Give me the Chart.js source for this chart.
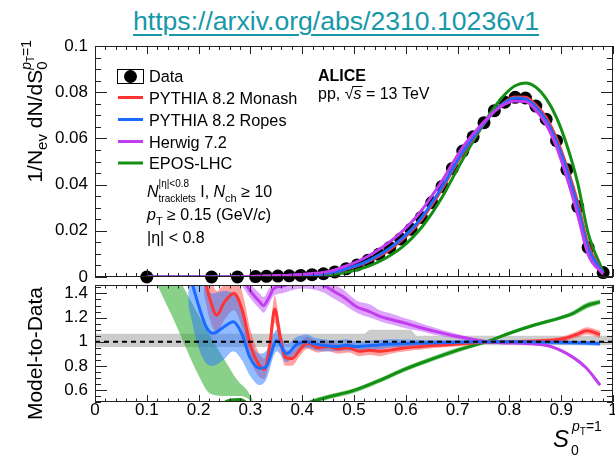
<!DOCTYPE html>
<html>
<head>
<meta charset="utf-8">
<script src="https://cdn.jsdelivr.net/npm/chart.js@4.4.1/dist/chart.umd.min.js"></script>
<style>
  html, body { margin: 0; padding: 0; background: #fff; overflow: hidden; width: 615px; height: 461px; }
  #url { position: absolute; left: 133px; top: 8px; font: 26.6px/26px "Liberation Sans", Arial, sans-serif; color: #1798aa;
         text-decoration: underline; text-decoration-thickness: 2px; text-underline-offset: 4px; white-space: nowrap; }
  #top { position: absolute; left: 0; top: 0; }
  #bot { position: absolute; left: 0; top: 281px; }
</style>
</head>
<body>
<div id="url">https://arxiv.org/abs/2310.10236v1</div>
<canvas id="top" width="640" height="300"></canvas>
<canvas id="bot" width="640" height="180"></canvas>
<script>
// ---- top panel: S0 distribution ----
const dataX = [0.1, 0.225, 0.275, 0.31, 0.331, 0.353, 0.375, 0.397, 0.419, 0.441, 0.463, 0.485, 0.506, 0.527, 0.548, 0.569,
  0.59, 0.61, 0.63, 0.65, 0.67, 0.69, 0.71, 0.73, 0.751, 0.771, 0.791, 0.811, 0.831, 0.851, 0.871, 0.891, 0.911, 0.932, 0.952, 0.981];
const dataY = [0, 0, 0, 0.0002, 0.0003, 0.0004, 0.0005, 0.0007, 0.0010, 0.0014, 0.0022, 0.0036, 0.0052, 0.0072, 0.0098, 0.0128,
  0.0165, 0.0207, 0.0258, 0.0322, 0.0392, 0.0470, 0.0545, 0.0607, 0.0668, 0.0720, 0.0757, 0.0778, 0.0775, 0.0740, 0.0683, 0.0590, 0.0465, 0.0305, 0.0128, 0.0019];
const monashY = [0, 0, 0, 0.0002, 0.0003, 0.0004, 0.0005, 0.0007, 0.00095, 0.0013, 0.0021, 0.0034, 0.0048, 0.0067, 0.0090, 0.0119,
  0.0155, 0.0197, 0.0248, 0.0311, 0.0381, 0.0460, 0.0536, 0.0600, 0.0665, 0.0718, 0.0757, 0.0779, 0.0778, 0.0745, 0.0690, 0.0600, 0.0476, 0.0322, 0.0140, 0.0015];
const ropesY = [0, 0, 0, 0.0002, 0.0003, 0.0004, 0.0005, 0.0007, 0.0010, 0.0014, 0.0021, 0.0035, 0.0050, 0.0070, 0.0095, 0.0125,
  0.0162, 0.0204, 0.0256, 0.0320, 0.0390, 0.0467, 0.0542, 0.0604, 0.0666, 0.0718, 0.0755, 0.0775, 0.0771, 0.0737, 0.0678, 0.0586, 0.0462, 0.0302, 0.0126, 0.0017];
const herwigY = [0, 0, 0, 0.0003, 0.0004, 0.0006, 0.0008, 0.0011, 0.0015, 0.0020, 0.0031, 0.0048, 0.0067, 0.0090, 0.0119, 0.0152,
  0.0191, 0.0235, 0.0287, 0.0350, 0.0416, 0.0491, 0.0562, 0.0619, 0.0672, 0.0717, 0.0748, 0.0762, 0.0760, 0.0722, 0.0660, 0.0563, 0.0430, 0.0268, 0.0098, 0.0012];
const eposY = [0, 0, 0, 0.0001, 0.0001, 0.0001, 0.0002, 0.0003, 0.0004, 0.0007, 0.0012, 0.0020, 0.0031, 0.0046, 0.0066, 0.0092,
  0.0124, 0.0164, 0.0213, 0.0274, 0.0345, 0.0427, 0.0510, 0.0588, 0.0664, 0.0735, 0.0790, 0.0828, 0.0840, 0.0822, 0.0772, 0.0690, 0.0570, 0.0405, 0.0190, 0.0022];
const topTickLabels = ['0', '0.02', '0.04', '0.06', '0.08', '0.1'];

// ---- bottom panel: model / data ----
const monashRX = [0.21, 0.222, 0.235, 0.25, 0.268, 0.285, 0.30, 0.315, 0.327, 0.337, 0.347, 0.357, 0.367, 0.38, 0.395, 0.41, 0.43,
  0.45, 0.47, 0.49, 0.51, 0.53, 0.55, 0.57, 0.60, 0.63, 0.66, 0.70, 0.75, 0.80, 0.85, 0.90, 0.93, 0.95, 0.975];
const monashR = [1.55, 1.35, 1.22, 1.33, 1.40, 1.25, 0.97, 0.82, 0.77, 0.95, 1.27, 1.05, 0.87, 0.86, 0.93, 0.99, 0.95,
  0.96, 0.94, 0.95, 0.92, 0.93, 0.92, 0.93, 0.95, 0.96, 0.97, 0.98, 0.995, 1.0, 1.005, 1.02, 1.06, 1.09, 1.06];
const monashLo = [1.40, 1.18, 1.08, 1.18, 1.26, 1.10, 0.85, 0.72, 0.69, 0.85, 1.16, 0.96, 0.80, 0.80, 0.88, 0.94, 0.91,
  0.92, 0.90, 0.91, 0.88, 0.89, 0.88, 0.90, 0.92, 0.935, 0.95, 0.96, 0.98, 0.985, 0.99, 1.0, 1.035, 1.06, 1.03];
const monashHi = [1.70, 1.55, 1.42, 1.48, 1.55, 1.40, 1.10, 0.92, 0.86, 1.05, 1.38, 1.14, 0.94, 0.92, 0.98, 1.04, 0.99,
  1.00, 0.98, 0.99, 0.96, 0.97, 0.96, 0.96, 0.98, 0.985, 0.99, 1.0, 1.01, 1.015, 1.02, 1.04, 1.085, 1.12, 1.09];

const ropesRX = [0.18, 0.20, 0.215, 0.228, 0.248, 0.267, 0.283, 0.299, 0.318, 0.33, 0.351, 0.37, 0.39, 0.409, 0.425, 0.441,
  0.467, 0.485, 0.505, 0.537, 0.57, 0.634, 0.70, 0.80, 0.90, 0.95, 0.975];
const ropesR = [1.60, 1.30, 1.12, 1.07, 1.12, 1.165, 1.07, 0.87, 0.78, 0.79, 1.01, 0.90, 0.98, 1.00, 0.98, 0.97,
  0.96, 0.97, 0.96, 0.97, 0.98, 0.99, 0.995, 1.0, 0.995, 0.99, 0.985];
const ropesLo = [1.30, 0.95, 0.82, 0.80, 0.85, 0.92, 0.85, 0.72, 0.64, 0.68, 0.92, 0.83, 0.92, 0.95, 0.93, 0.92,
  0.92, 0.93, 0.92, 0.93, 0.95, 0.965, 0.975, 0.985, 0.975, 0.97, 0.965];
const ropesHi = [1.90, 1.65, 1.45, 1.40, 1.42, 1.40, 1.28, 1.02, 0.90, 0.92, 1.10, 0.98, 1.04, 1.06, 1.03, 1.02,
  1.01, 1.02, 1.00, 1.01, 1.02, 1.015, 1.015, 1.015, 1.01, 1.005, 1.0];

const herwigRX = [0.28, 0.30, 0.318, 0.325, 0.335, 0.345, 0.36, 0.40, 0.44, 0.46, 0.48, 0.505, 0.53, 0.55, 0.575, 0.602,
  0.625, 0.653, 0.698, 0.756, 0.79, 0.83, 0.88, 0.923, 0.949, 0.975];
const herwigR = [1.55, 1.42, 1.33, 1.30, 1.36, 1.44, 1.46, 1.50, 1.47, 1.42, 1.37, 1.29, 1.25, 1.21, 1.18, 1.15,
  1.12, 1.09, 1.045, 1.0, 0.99, 0.985, 0.96, 0.87, 0.78, 0.64];
const herwigLo = [1.49, 1.36, 1.27, 1.24, 1.30, 1.38, 1.40, 1.44, 1.41, 1.36, 1.31, 1.24, 1.20, 1.17, 1.14, 1.11,
  1.09, 1.06, 1.025, 0.99, 0.98, 0.975, 0.95, 0.86, 0.77, 0.63];
const herwigHi = [1.61, 1.48, 1.40, 1.37, 1.43, 1.51, 1.53, 1.56, 1.53, 1.48, 1.43, 1.34, 1.31, 1.26, 1.23, 1.19,
  1.16, 1.12, 1.065, 1.01, 1.0, 0.995, 0.97, 0.88, 0.79, 0.65];

const eposBandX = [0.12, 0.15, 0.20, 0.222, 0.25, 0.275, 0.295, 0.31, 0.35, 0.40, 0.44, 0.50, 0.55, 0.60, 0.65, 0.70,
  0.756, 0.80, 0.85, 0.90, 0.923, 0.95, 0.975];
const eposLo = [1.47, 1.20, 0.72, 0.57, 0.55, 0.55, 0.53, 0.42, 0.30, 0.45, 0.51, 0.575, 0.66, 0.755, 0.835, 0.91,
  0.99, 1.055, 1.125, 1.185, 1.215, 1.275, 1.31];
const eposHi = [1.75, 1.60, 1.22, 1.05, 0.85, 0.68, 0.59, 0.48, 0.36, 0.49, 0.55, 0.615, 0.70, 0.795, 0.875, 0.95,
  1.01, 1.085, 1.155, 1.215, 1.255, 1.325, 1.35];
const eposRX = [0.24, 0.26, 0.28, 0.30, 0.35, 0.40, 0.44, 0.50, 0.55, 0.60, 0.65, 0.70, 0.756, 0.80, 0.85, 0.90, 0.923, 0.95, 0.975];
const eposR = [0.47, 0.515, 0.52, 0.47, 0.33, 0.47, 0.53, 0.596, 0.68, 0.775, 0.855, 0.93, 1.0, 1.07, 1.14, 1.20, 1.235, 1.30, 1.33];

const statX = [0, 0.52, 0.53, 0.61, 0.62, 1.0];
const statLo = [0.955, 0.955, 0.955, 0.955, 0.97, 0.97];
const statHi = [1.065, 1.065, 1.10, 1.10, 1.05, 1.05];

const ratioTicks = [0.6, 0.8, 1, 1.2, 1.4];
const ratioTickLabels = ['0.6', '0.8', '1', '1.2', '1.4'];
const xTickLabels = ['0', '0.1', '0.2', '0.3', '0.4', '0.5', '0.6', '0.7', '0.8', '0.9', '1'];

const FF = '"Liberation Sans", Arial, Helvetica, sans-serif';
const RED = '#ff3535', BLUE = '#1c6bff', PURPLE = '#c23cf0', GREEN = '#139013';

function pts(xs, ys) { return xs.map((x, i) => ({ x: x, y: ys[i] })); }

function curve(xs, ys, color) {
  return { data: pts(xs, ys), borderColor: color, borderWidth: 3, pointRadius: 0, fill: false, cubicInterpolationMode: 'monotone' };
}
function band(xs, ys, color, target) {
  return { data: pts(xs, ys), borderColor: 'transparent', borderWidth: 0, pointRadius: 0, backgroundColor: color,
           fill: target, cubicInterpolationMode: 'monotone' };
}

// rich text: parts drawn left to right, adv:0 keeps the pen where it is (stacked sub/sup)
function txt(ctx, parts, x, y, draw) {
  for (const p of parts) {
    ctx.font = (p.st || '') + ' ' + p.s + 'px ' + FF;
    if (draw !== false) ctx.fillText(p.t, x, y + (p.dy || 0));
    if (p.adv !== 0) x += ctx.measureText(p.t).width;
  }
  return x;
}

// ROOT style frame with ticks inside on all four sides
function framePlugin(o) {
  return {
    id: 'frame',
    afterDraw(chart) {
      const { ctx, chartArea: a, scales: { x, y } } = chart;
      ctx.save();
      ctx.strokeStyle = '#222';
      ctx.lineWidth = 1;
      ctx.strokeRect(a.left + 0.5, a.top + 0.5, a.right - a.left - 1, a.bottom - a.top - 1);
      ctx.beginPath();
      for (let i = 0; i <= 50; i++) {
        const px = Math.round(x.getPixelForValue(i * 0.02)) + 0.5;
        const len = i % 5 === 0 ? o.xMaj : o.xMin;
        ctx.moveTo(px, a.bottom); ctx.lineTo(px, a.bottom - len);
        ctx.moveTo(px, a.top); ctx.lineTo(px, a.top + len);
      }
      const n = Math.round((o.y1 - o.y0) / o.yStep);
      for (let i = 0; i <= n; i++) {
        const v = o.y0 + i * o.yStep;
        const py = Math.round(y.getPixelForValue(v)) + 0.5;
        const r = v / o.yMajStep;
        const len = Math.abs(r - Math.round(r)) < 1e-6 ? o.yMaj : o.yMin;
        ctx.moveTo(a.left, py); ctx.lineTo(a.left + len, py);
        ctx.moveTo(a.right, py); ctx.lineTo(a.right - len, py);
      }
      ctx.stroke();
      ctx.restore();
    }
  };
}

const topText = {
  id: 'topText',
  afterDraw(chart) {
    const ctx = chart.ctx;
    ctx.save();
    ctx.fillStyle = '#000';
    ctx.textAlign = 'left';
    ctx.textBaseline = 'alphabetic';

    // y title
    const yt = [{ t: '1/N', s: 21 }, { t: 'ev', s: 15, dy: 5 }, { t: ' dN/dS', s: 21 }, { t: '0', s: 15, dy: 5, adv: 0 },
                { t: 'p', s: 14, st: 'italic', dy: -11 }, { t: 'T', s: 10, dy: -8 }, { t: '=1', s: 14, dy: -11 }];
    const w = txt(ctx, yt, 0, 0, false);
    ctx.save();
    ctx.translate(42, 40 + w);
    ctx.rotate(-Math.PI / 2);
    txt(ctx, yt, 0, 0);
    ctx.restore();

    // legend
    ctx.strokeStyle = '#000';
    ctx.lineWidth = 1;
    ctx.strokeRect(117.5, 69.5, 26, 14);
    ctx.beginPath();
    ctx.arc(130.5, 76.5, 6.5, 0, 2 * Math.PI);
    ctx.fill();
    txt(ctx, [{ t: 'Data', s: 16.3 }], 149, 82);
    const rows = [['PYTHIA 8.2 Monash', RED, 97.5], ['PYTHIA 8.2 Ropes', BLUE, 119.5],
                  ['Herwig 7.2', PURPLE, 141.5], ['EPOS-LHC', GREEN, 163]];
    ctx.lineWidth = 3;
    for (const [label, color, yy] of rows) {
      ctx.strokeStyle = color;
      ctx.beginPath(); ctx.moveTo(118, yy); ctx.lineTo(143, yy); ctx.stroke();
      txt(ctx, [{ t: label, s: 16.3 }], 149, yy + 6);
    }

    // selection text
    txt(ctx, [{ t: 'N', s: 16, st: 'italic' }, { t: '|η|<0.8', s: 10, dy: -10, adv: 0 }, { t: 'tracklets', s: 10, dy: 5 },
              { t: ' I, ', s: 16 }, { t: 'N', s: 16, st: 'italic' }, { t: 'ch', s: 11, dy: 5 }, { t: ' ≥ 10', s: 16 }], 147, 197);
    txt(ctx, [{ t: 'p', s: 16, st: 'italic' }, { t: 'T', s: 11, dy: 5 }, { t: ' ≥ 0.15 (GeV/', s: 16 },
              { t: 'c', s: 16, st: 'italic' }, { t: ')', s: 16 }], 147, 220);
    txt(ctx, [{ t: '|η| < 0.8', s: 16 }], 147, 243);

    // ALICE label
    txt(ctx, [{ t: 'ALICE', s: 16, st: 'bold' }], 318, 81);
    const xs = txt(ctx, [{ t: 'pp, √', s: 16 }], 318, 99);
    const xe = txt(ctx, [{ t: 's', s: 16, st: 'italic' }], xs, 99);
    txt(ctx, [{ t: ' = 13 TeV', s: 16 }], xe, 99);
    ctx.strokeStyle = '#000';
    ctx.lineWidth = 1;
    ctx.beginPath(); ctx.moveTo(xs - 1, 86.5); ctx.lineTo(xe + 1, 86.5); ctx.stroke();
    ctx.restore();
  }
};

const botText = {
  id: 'botText',
  afterDraw(chart) {
    const ctx = chart.ctx;
    ctx.save();
    ctx.fillStyle = '#000';
    ctx.textAlign = 'left';
    ctx.textBaseline = 'alphabetic';
    const yt = [{ t: 'Model-to-Data', s: 21 }];
    const w = txt(ctx, yt, 0, 0, false);
    ctx.save();
    ctx.translate(42, 6 + w);
    ctx.rotate(-Math.PI / 2);
    txt(ctx, yt, 0, 0);
    ctx.restore();

    // x title S0^{pT=1}
    txt(ctx, [{ t: 'S', s: 24, st: 'italic' }], 553, 166);
    txt(ctx, [{ t: '0', s: 14 }], 571, 174);
    txt(ctx, [{ t: 'p', s: 14, st: 'italic' }, { t: 'T', s: 10, dy: 4 }, { t: '=1', s: 14 }], 572, 150);
    ctx.restore();
  }
};

const tickFont = { family: FF, size: 17 };

new Chart(document.getElementById('top'), {
  type: 'line',
  data: {
    datasets: [
      curve(dataX, herwigY, PURPLE),
      curve(dataX, ropesY, BLUE),
      curve(dataX, monashY, RED),
      curve(dataX, eposY, GREEN),
      { data: pts(dataX, dataY), showLine: false, pointRadius: 6.5, pointBorderWidth: 0,
        pointBackgroundColor: '#000', borderColor: '#000', clip: false }
    ]
  },
  options: {
    responsive: false,
    animation: false,
    events: [],
    layout: { padding: { top: 46, bottom: 23, left: 0, right: 27 } },
    plugins: { legend: { display: false }, tooltip: { enabled: false } },
    scales: {
      x: { type: 'linear', min: 0, max: 1, display: false },
      y: {
        min: 0, max: 0.1,
        ticks: { stepSize: 0.02, font: tickFont, color: '#000', padding: 7,
                 callback: (v, i) => topTickLabels[i] },
        grid: { display: false, drawTicks: false },
        border: { display: false },
        afterFit: s => { s.width = 95; s.paddingTop = 0; s.paddingBottom = 0; }
      }
    }
  },
  plugins: [framePlugin({ xMaj: 8, xMin: 4, y0: 0, y1: 0.1, yStep: 0.005, yMajStep: 0.02, yMaj: 12, yMin: 6 }), topText]
});

new Chart(document.getElementById('bot'), {
  type: 'line',
  data: {
    datasets: [
      { data: pts([0, 1], [1, 1]), borderColor: '#000', borderWidth: 2, borderDash: [5, 4], pointRadius: 0, fill: false },
      curve(ropesRX, ropesR, BLUE),
      curve(monashRX, monashR, RED),
      curve(herwigRX, herwigR, PURPLE),
      curve(eposRX, eposR, GREEN),
      band(ropesRX, ropesHi, 'rgba(40,120,255,0.5)', '+1'),
      band(ropesRX, ropesLo, 'transparent', false),
      band(monashRX, monashHi, 'rgba(255,70,70,0.5)', '+1'),
      band(monashRX, monashLo, 'transparent', false),
      band(herwigRX, herwigHi, 'rgba(195,90,250,0.55)', '+1'),
      band(herwigRX, herwigLo, 'transparent', false),
      band(eposBandX, eposHi, 'rgba(40,170,40,0.55)', '+1'),
      band(eposBandX, eposLo, 'transparent', false),
      { data: pts(statX, statHi), borderColor: 'transparent', borderWidth: 0, pointRadius: 0,
        backgroundColor: 'rgba(170,170,170,0.6)', fill: '+1' },
      { data: pts(statX, statLo), borderColor: 'transparent', borderWidth: 0, pointRadius: 0, fill: false }
    ]
  },
  options: {
    responsive: false,
    animation: false,
    events: [],
    layout: { padding: { top: 4, bottom: 0, left: 0, right: 27 } },
    plugins: { legend: { display: false }, tooltip: { enabled: false } },
    scales: {
      x: {
        type: 'linear', min: 0, max: 1,
        ticks: { stepSize: 0.1, font: tickFont, color: '#000', padding: -2, maxRotation: 0, autoSkip: false,
                 callback: (v, i) => xTickLabels[i] },
        grid: { display: false, drawTicks: false },
        border: { display: false },
        afterFit: s => { s.height = 59; s.paddingLeft = 0; s.paddingRight = 0; }
      },
      y: {
        min: 0.5, max: 1.47,
        afterBuildTicks: s => { s.ticks = ratioTicks.map(v => ({ value: v })); },
        ticks: { font: tickFont, color: '#000', padding: 7,
                 callback: v => ratioTickLabels[ratioTicks.indexOf(v)] },
        grid: { display: false, drawTicks: false },
        border: { display: false },
        afterFit: s => { s.width = 95; s.paddingTop = 0; s.paddingBottom = 0; }
      }
    }
  },
  plugins: [framePlugin({ xMaj: 7, xMin: 3.5, y0: 0.5, y1: 1.45, yStep: 0.05, yMajStep: 0.2, yMaj: 12, yMin: 6 }), botText]
});
</script>
</body>
</html>
